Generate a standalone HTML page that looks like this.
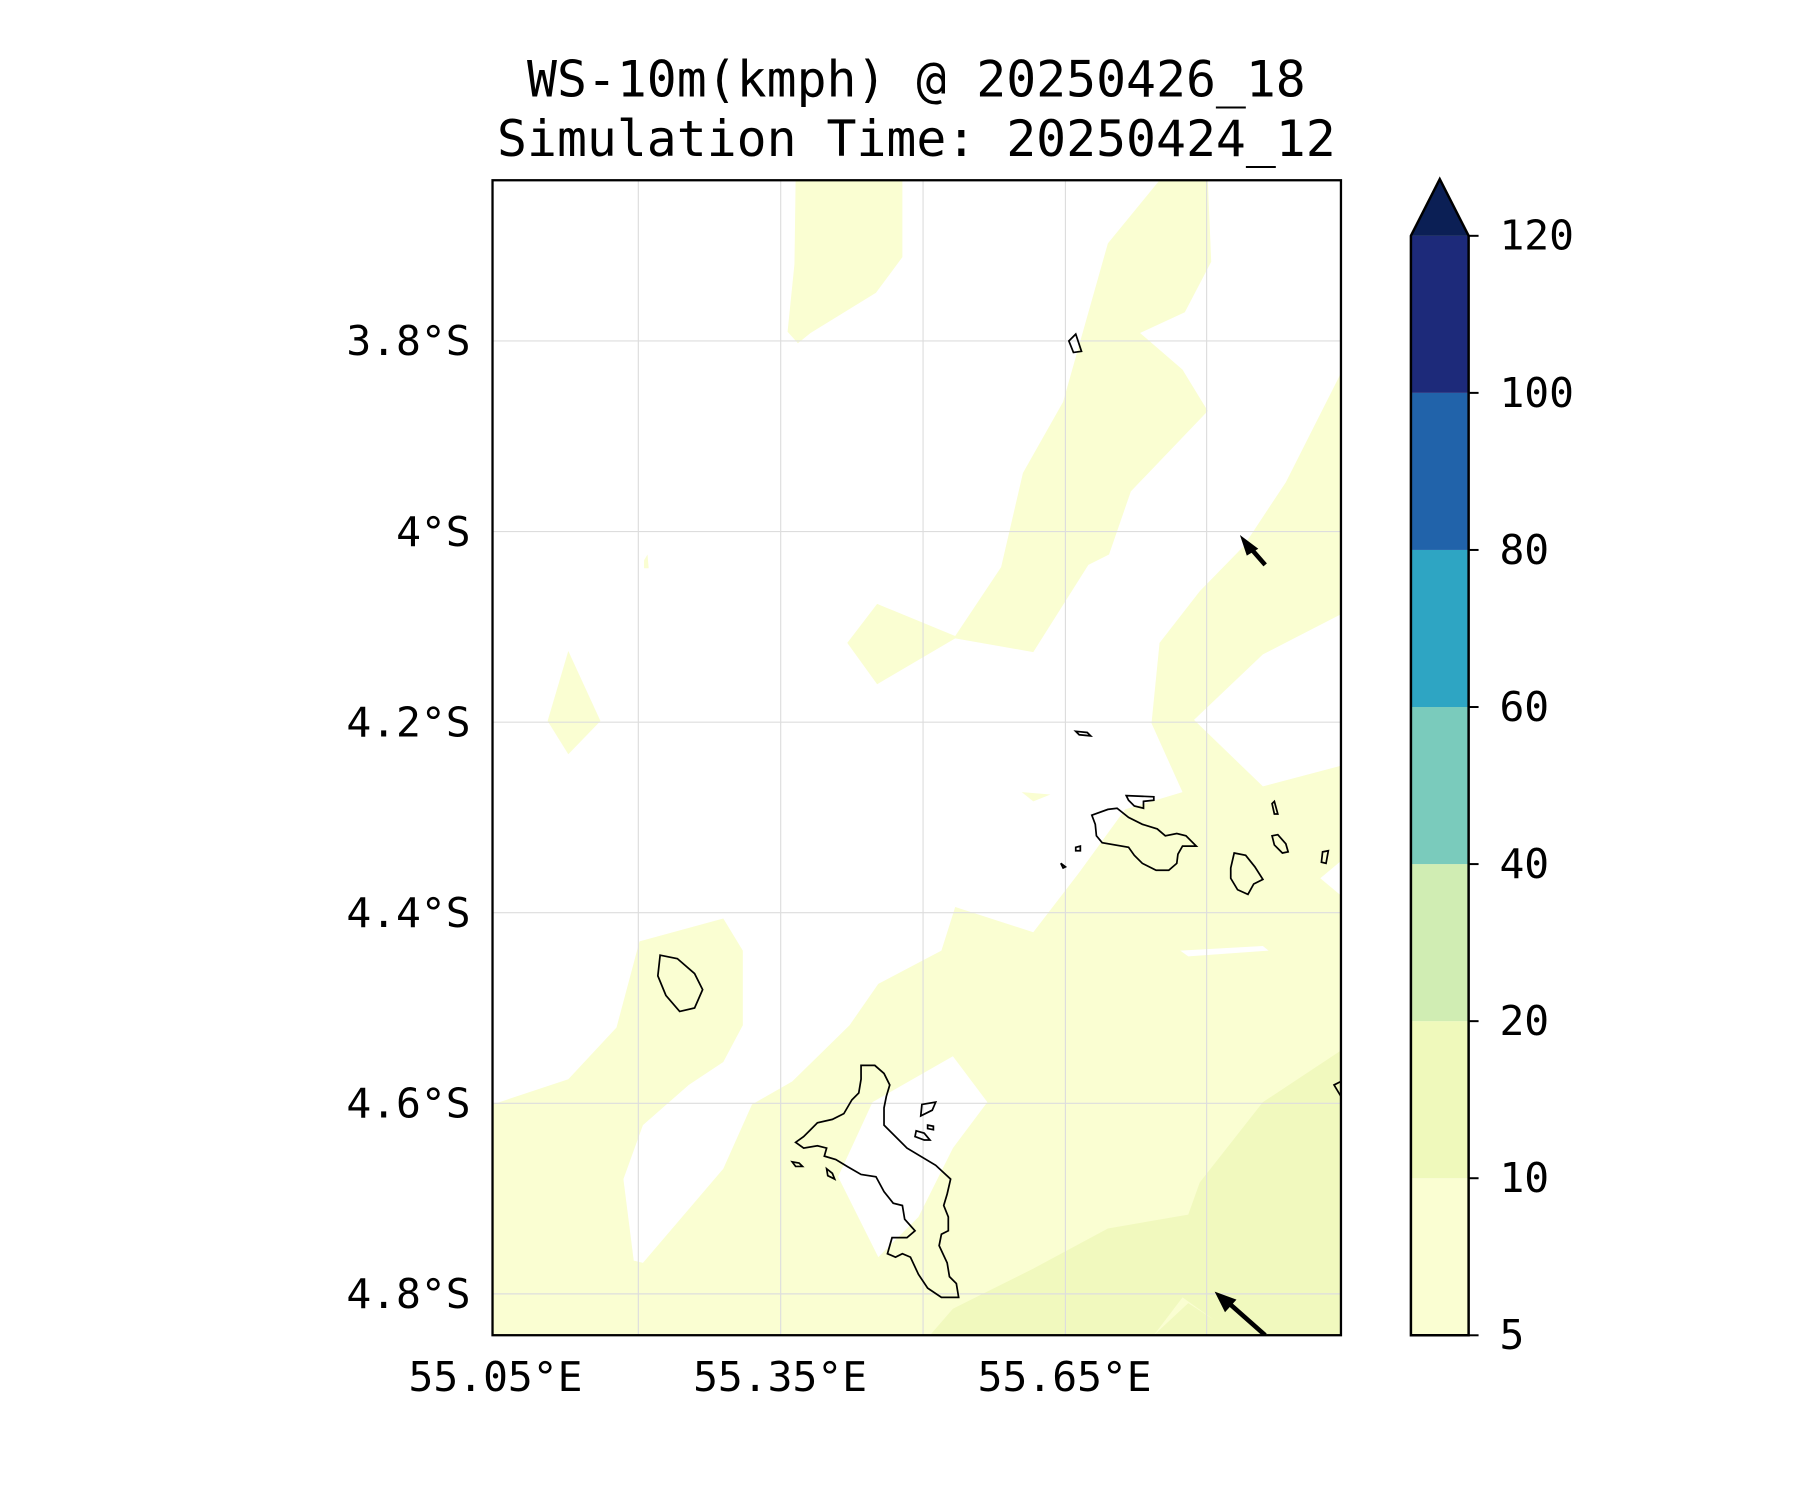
<!DOCTYPE html>
<html><head><meta charset="utf-8"><style>
html,body{margin:0;padding:0;background:#fff;}
svg{display:block;}
text{font-family:"DejaVu Sans Mono","Liberation Mono",monospace;fill:#000;}
</style></head><body>
<svg id="fig" width="1800" height="1500" viewBox="0 0 1800 1500" xmlns="http://www.w3.org/2000/svg">
<defs><clipPath id="pc"><rect x="429" y="157" width="739" height="1006"/></clipPath></defs>
<g transform="scale(0.995)">
<text x="921" y="97" font-size="50" text-anchor="middle">WS-10m(kmph) @ 20250426_18</text>
<text x="921" y="157" font-size="50" text-anchor="middle">Simulation Time: 20250424_12</text>
<g transform="scale(1.153846)">
 <g clip-path="url(#pc)">
  <rect x="429" y="157" width="739" height="1006" fill="#fff"/>
  <g fill="#fafed2">
   <polygon points="693,157 786,157 786,224 763,255 706,290 695,299 686,289 692,230"/>
   <polygon points="1010,157 1052,157 1055,228 1032,272 993,290 1030,322 1052,358 985,428 966,483 948,492 900,568 832,556 764,596 738,560 764,526 832,554 872,494 891,412 926,350 965,212"/>
   <polygon points="1168,325 1168,1163 429,1163 429,962 495,940 537,895 557,820 630,800 647,828 647,893 630,925 600,945 560,980 543,1027 552,1098 560,1100 630,1018 655,962 690,942 740,893 765,857 820,828 832,790 900,812 940,760 980,705 1030,690 1003,630 1010,560 1045,515 1083,476 1120,420"/>
   <polygon points="495,567 523,628 495,657 477,628"/>
   <polygon points="561,488 564,483 565,495 561,495"/>
   <polygon points="890,690 915,692 900,698"/>
  </g>
  <g fill="#fff">
   <polygon points="1168,535 1100,570 1040,627 1100,685 1168,667"/>
   <polygon points="1168,750 1150,765 1168,780"/>
   <polygon points="730,1025 760,960 830,920 860,960 830,1000 800,1060 765,1095"/>
   <polygon points="1028,828 1100,824 1105,828 1035,833"/>
  </g>
  <polygon fill="#f1f9be" points="810,1163 830,1140 900,1105 965,1070 1035,1058 1045,1030 1100,960 1168,915 1168,1163 1005,1163 1035,1135 1058,1150 1030,1130 1005,1163"/>
  <g stroke="#ddd" stroke-width="1">
   <line x1="556" y1="157" x2="556" y2="1163"/><line x1="680" y1="157" x2="680" y2="1163"/><line x1="804" y1="157" x2="804" y2="1163"/><line x1="928" y1="157" x2="928" y2="1163"/><line x1="1051" y1="157" x2="1051" y2="1163"/>
   <line x1="429" y1="297" x2="1168" y2="297"/><line x1="429" y1="463" x2="1168" y2="463"/><line x1="429" y1="629" x2="1168" y2="629"/><line x1="429" y1="795" x2="1168" y2="795"/><line x1="429" y1="961" x2="1168" y2="961"/><line x1="429" y1="1127" x2="1168" y2="1127"/>
  </g>
  <g fill="none" stroke="#000" stroke-width="1.5">
   <polygon points="750,928 762,928 770,935 775,945 772,955 770,965 770,980 775,985 790,1000 815,1015 828,1027 825,1040 822,1050 826,1060 826,1072 820,1075 818,1085 825,1100 827,1112 833,1118 835,1130 820,1130 808,1122 800,1110 793,1095 786,1092 780,1095 773,1092 777,1078 790,1078 797,1072 788,1062 786,1050 778,1048 770,1038 763,1025 750,1023 738,1016 728,1010 718,1007 720,1000 712,998 700,1000 693,995 700,990 705,985 712,978 725,975 735,970 742,958 748,952 750,940"/>
   <polygon points="951,710 965,705 973,704 983,712 995,718 1008,722 1015,728 1025,726 1033,728 1042,737 1030,737 1026,744 1025,752 1018,758 1007,758 995,752 988,745 983,738 960,734 955,728 954,718"/>
   <polygon points="981,693 1005,694 1005,697 996,698 996,704 988,702 983,697"/>
   <polygon points="1075,743 1085,745 1093,755 1100,766 1092,770 1087,779 1078,775 1072,765 1072,756"/>
   <polygon points="575,832 590,835 605,848 612,862 605,878 592,881 580,867 573,850"/>
   <polygon points="931,297 937,291 942,306 935,307"/>
   <polygon points="937,637 947,638 950,641 940,640"/>
   <polygon points="1108,728 1113,727 1120,735 1122,742 1117,743 1110,736"/>
   <polygon points="1108,700 1110,698 1113,709 1110,709"/>
   <polygon points="1152,742 1157,741 1155,752 1151,751"/>
   <polygon points="937,738 941,737 941,741 937,741"/>
   <polygon points="924,752 928,755 926,756"/>
   <polygon points="1162,945 1168,942 1168,955"/>
   <polygon points="803,962 815,960 812,967 802,972"/>
   <polygon points="798,985 805,987 810,993 805,993 797,990"/>
   <polygon points="808,980 813,981 813,984 808,983"/>
   <polygon points="690,1012 696,1013 699,1016 693,1016"/>
   <polygon points="720,1018 725,1022 727,1027 721,1024"/>
  </g>
  <g>
   <line x1="1102" y1="492" x2="1088" y2="476" stroke="#000" stroke-width="4"/>
   <polygon points="1080,466 1096,478 1086,484" fill="#000"/>
   <line x1="1102" y1="1163" x2="1068" y2="1133" stroke="#000" stroke-width="4"/>
   <polygon points="1058,1125 1077,1132 1067,1143" fill="#000"/>
  </g>
 </g>
 <rect x="429" y="157" width="739" height="1006" fill="none" stroke="#000" stroke-width="2"/>
</g>
<g id="axes"></g>
<g id="cbar"></g>
</g>
<script>
const latTicks = [3.8, 4.0, 4.2, 4.4, 4.6, 4.8];
const latLabels = ["3.8°S","4°S","4.2°S","4.4°S","4.6°S","4.8°S"];
const lonTicks = [55.05, 55.35, 55.65];
const lonLabels = ["55.05°E","55.35°E","55.65°E"];
const levels = [5, 10, 20, 40, 60, 80, 100, 120];
const levelColors = ["#fafed2","#eff9bb","#d0edb3","#7acbbc","#2ea5c3","#2163aa","#1d2a7a"];
const extendColor = "#0b1f55";
const NS = "http://www.w3.org/2000/svg";
function yLat(v){ return 343 + (v - 3.8) / 0.2 * 191.5; }
function xLon(v){ return 498 + (v - 55.05) / 0.3 * 286; }
function yLev(i){ return 1342 - i * (1342 - 237) / (levels.length - 1); }
function mk(tag, attrs, parent){ const e = document.createElementNS(NS, tag); for (const k in attrs) e.setAttribute(k, attrs[k]); parent.appendChild(e); return e; }
const ax = document.getElementById('axes');
latTicks.forEach((v, i) => {
  const t = mk('text', {x: 473, y: yLat(v) + 14, 'font-size': 41.5, 'text-anchor': 'end'}, ax);
  t.textContent = latLabels[i];
  
  
});
lonTicks.forEach((v, i) => {
  const t = mk('text', {x: xLon(v), y: 1398, 'font-size': 41.5, 'text-anchor': 'middle'}, ax);
  t.textContent = lonLabels[i];
  
  
});
const cb = document.getElementById('cbar');
const cx0 = 1418, cx1 = 1476;
levelColors.forEach((c, i) => {
  const r = mk('rect', {x: cx0, y: yLev(i + 1), width: cx1 - cx0, height: yLev(i) - yLev(i + 1), fill: c}, cb);
  
  
});
const tri = mk('polygon', {points: `${cx0},${yLev(levels.length-1)} ${(cx0+cx1)/2},180 ${cx1},${yLev(levels.length-1)}`, fill: extendColor}, cb);


const outline = mk('polygon', {points: `${cx0},1342 ${cx0},${yLev(levels.length-1)} ${(cx0+cx1)/2},180 ${cx1},${yLev(levels.length-1)} ${cx1},1342`, fill: 'none', stroke: '#000', 'stroke-width': 2.5}, cb);


levels.forEach((v, i) => {
  const y = yLev(i);
  const tk = mk('line', {x1: cx1, x2: cx1 + 10, y1: y, y2: y, stroke: '#000', 'stroke-width': 2}, cb);
  
  
  const t = mk('text', {x: 1507, y: y + 14, 'font-size': 41.5}, cb);
  t.textContent = String(v);
  
  
});
</script>
</svg>
</body></html>
